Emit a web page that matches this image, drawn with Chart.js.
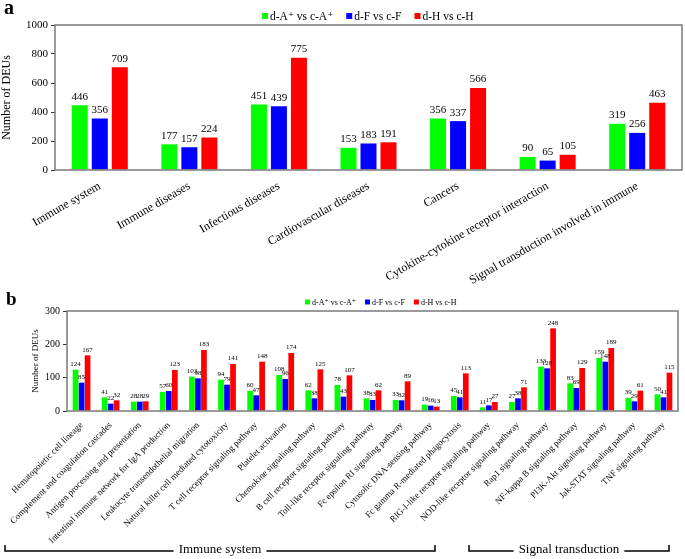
<!DOCTYPE html>
<html>
<head>
<meta charset="utf-8">
<script src="https://cdn.jsdelivr.net/npm/chart.js@4"></script>
<style>
  html, body { margin: 0; padding: 0; background: #fff; }
  #wrap { position: relative; width: 685px; height: 559px; overflow: hidden; }
  #chartA { position: absolute; left: 0; top: 0; }
  #chartB { position: absolute; left: 0; top: 285px; }
</style>
</head>
<body>
<div id="wrap">
  <canvas id="chartA" width="685" height="300"></canvas>
  <canvas id="chartB" width="685" height="274"></canvas>
</div>
<script>
// series labels
const seriesNames = ["d-A\u207A vs c-A\u207A", "d-F vs c-F", "d-H vs c-H"];
const seriesColors = ["#00ff00", "#0000ff", "#ff0000"];

// panel a
const catsA = ["Immune system", "Immune diseases", "Infectious diseases", "Cardiovascular diseases",
    "Cancers", "Cytokine-cytokine receptor interaction", "Signal transduction involved in immune"];
const aA = [446, 177, 451, 153, 356, 90, 319];
const aF = [356, 157, 439, 183, 337, 65, 256];
const aH = [709, 224, 775, 191, 566, 105, 463];
const ticksA = [0, 200, 400, 600, 800, 1000];

// panel b
const catsB = ["Hematopoietic cell lineage", "Complement and coagulation cascades",
    "Antigen processing and presentation", "Intestinal immune network for IgA production",
    "Leukocyte transendothelial migration", "Natural killer cell mediated cytotoxicity",
    "T cell receptor signaling pathway", "Platelet activation", "Chemokine signaling pathway",
    "B cell receptor signaling pathway", "Toll-like receptor signaling pathway",
    "Fc epsilon RI signaling pathway", "Cytosolic DNA-sensing pathway",
    "Fc gamma R-mediated phagocytosis", "RIG-I-like receptor signaling pathway",
    "NOD-like receptor signaling pathway", "Rap1 signaling pathway", "NF-kappa B signaling pathway",
    "PI3K-Akt signaling pathway", "Jak-STAT signaling pathway", "TNF signaling pathway"];
const bA = [124, 41, 28, 57, 103, 94, 60, 108, 62, 78, 38, 33, 19, 45, 11, 27, 133, 83, 159, 39, 50];
const bF = [85, 22, 28, 60, 98, 79, 47, 96, 38, 43, 33, 32, 16, 41, 17, 38, 128, 69, 148, 29, 41];
const bH = [167, 32, 29, 123, 183, 141, 148, 174, 125, 107, 62, 89, 13, 113, 27, 71, 248, 129, 189, 61, 115];
const ticksB = [0, 100, 200, 300];

// group brackets under panel b
const groupsB = ["Immune system", "Signal transduction"];

const SERIF = "'Liberation Serif', 'DejaVu Serif', serif";

// numbers above the bars, box around the plot, panel letter, legend
const decorPlugin = {
    id: "decor",
    afterDatasetsDraw(chart, args, o) {
        const ctx = chart.ctx;
        ctx.save();
        ctx.fillStyle = "#000";
        ctx.font = o.valueSize + "px " + SERIF;
        ctx.textAlign = "center";
        ctx.textBaseline = "bottom";
        chart.data.datasets.forEach((ds, i) => {
            chart.getDatasetMeta(i).data.forEach((bar, j) => {
                ctx.fillText(ds.data[j], bar.x, bar.y - o.valueGap);
            });
        });
        ctx.restore();
    },
    afterDraw(chart, args, o) {
        const ctx = chart.ctx;
        const a = chart.chartArea;
        ctx.save();
        // frame
        ctx.strokeStyle = "#7a7a7a";
        ctx.lineWidth = 1.5;
        ctx.strokeRect(a.left, a.top, a.right - a.left, a.bottom - a.top);
        // panel letter
        ctx.fillStyle = "#000";
        ctx.font = "bold " + o.letterSize + "px " + SERIF;
        ctx.textAlign = "left";
        ctx.textBaseline = "alphabetic";
        ctx.fillText(o.letter, o.letterX, o.letterY);
        // legend
        ctx.font = o.legendSize + "px " + SERIF;
        ctx.textBaseline = "middle";
        let x = o.legendX;
        const s = o.legendBox;
        chart.data.datasets.forEach(ds => {
            ctx.fillStyle = ds.backgroundColor;
            ctx.fillRect(x, o.legendY - s / 2, s, s);
            x += s + 2;
            ctx.fillStyle = "#000";
            ctx.fillText(ds.label, x, o.legendY + 0.5);
            x += ctx.measureText(ds.label).width + o.legendGap;
        });
        // brackets
        (o.brackets || []).forEach(b => {
            ctx.strokeStyle = "#000";
            ctx.lineWidth = 1.5;
            ctx.font = o.bracketSize + "px " + SERIF;
            ctx.textAlign = "center";
            ctx.textBaseline = "middle";
            const mid = (b.x1 + b.x2) / 2;
            const half = ctx.measureText(b.text).width / 2 + 5;
            ctx.beginPath();
            ctx.moveTo(b.x1, b.y - 6);
            ctx.lineTo(b.x1, b.y);
            ctx.lineTo(mid - half, b.y);
            ctx.moveTo(mid + half, b.y);
            ctx.lineTo(b.x2, b.y);
            ctx.lineTo(b.x2, b.y - 6);
            ctx.stroke();
            ctx.fillStyle = "#000";
            ctx.fillText(b.text, mid, b.y - 1);
        });
        ctx.restore();
    }
};

function makeChart(id, cats, series, ticks, cfg) {
    const datasets = series.map((d, i) => ({
        label: seriesNames[i],
        data: d,
        backgroundColor: seriesColors[i],
        borderWidth: 0,
        categoryPercentage: cfg.catPct,
        barPercentage: cfg.barPct
    }));
    return new Chart(document.getElementById(id), {
        type: "bar",
        data: { labels: cats, datasets },
        plugins: [decorPlugin],
        options: {
            responsive: false,
            animation: false,
            devicePixelRatio: 1,
            layout: { padding: { left: cfg.padLeft, top: cfg.top, right: cfg.padRight, bottom: 0 } },
            plugins: {
                legend: { display: false },
                tooltip: { enabled: false },
                decor: cfg.decor
            },
            scales: {
                x: {
                    grid: { display: false, drawTicks: false },
                    border: { display: false },
                    ticks: {
                        color: "#000",
                        font: { family: SERIF, size: cfg.xFont },
                        minRotation: cfg.rot,
                        maxRotation: cfg.rot,
                        padding: cfg.xPad,
                        autoSkip: false
                    },
                    afterFit: s => { s.height = cfg.xHeight; }
                },
                y: {
                    min: ticks[0],
                    max: ticks[ticks.length - 1],
                    afterBuildTicks: s => { s.ticks = ticks.map(v => ({ value: v })); },
                    grid: { display: true, drawOnChartArea: false, tickLength: 4, color: "#333", lineWidth: 1 },
                    border: { display: false },
                    ticks: {
                        color: "#000",
                        font: { family: SERIF, size: cfg.yFont },
                        padding: 3,
                        callback: v => String(v)
                    },
                    title: {
                        display: true,
                        text: "Number of DEUs",
                        color: "#000",
                        font: { family: SERIF, size: cfg.titleFont },
                        padding: { top: 0, bottom: cfg.titlePad }
                    },
                    afterFit: s => { s.width = cfg.yWidth; }
                }
            }
        }
    });
}

makeChart("chartA", catsA, [aA, aF, aH], ticksA, {
    catPct: 0.67, barPct: 0.8,
    padLeft: 0, padRight: 3, top: 25,
    xFont: 12, rot: 30, xPad: 9, xHeight: 130,
    yFont: 11, titleFont: 12, titlePad: 2, yWidth: 55,
    decor: {
        valueSize: 11, valueGap: 3,
        letter: "a", letterSize: 20, letterX: 4, letterY: 14,
        legendX: 262, legendY: 16, legendBox: 6, legendSize: 11.5, legendGap: 13
    }
});

makeChart("chartB", catsB, [bA, bF, bH], ticksB, {
    catPct: 0.62, barPct: 0.95,
    padLeft: 30, padRight: 7, top: 26,
    xFont: 9, rot: 45, xPad: 9, xHeight: 148,
    yFont: 10, titleFont: 9, titlePad: 2, yWidth: 37,
    decor: {
        valueSize: 7, valueGap: 2,
        letter: "b", letterSize: 19, letterX: 6, letterY: 20,
        legendX: 305, legendY: 17, legendBox: 5, legendSize: 8, legendGap: 9,
        bracketSize: 13,
        brackets: [
            { text: groupsB[0], x1: 5, x2: 435, y: 266 },
            { text: groupsB[1], x1: 469, x2: 669, y: 266 }
        ]
    }
});
</script>
</body>
</html>
